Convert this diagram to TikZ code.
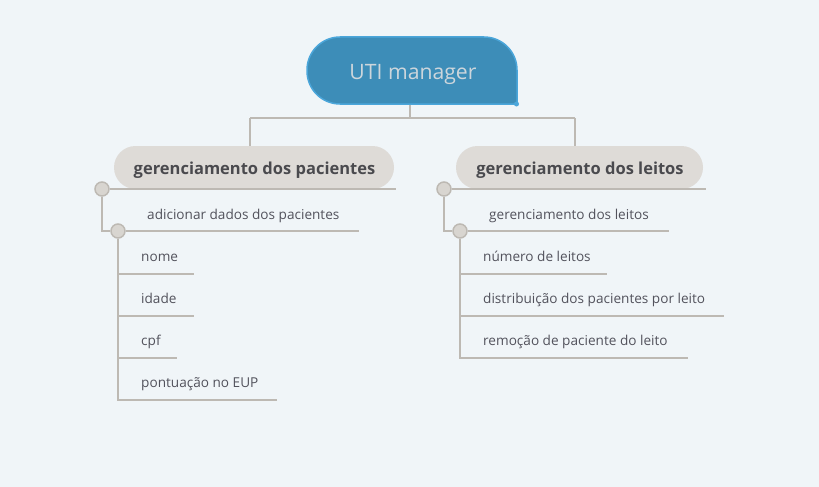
\documentclass[tikz,border=0pt]{standalone}
\usepackage{fontspec}
\setmainfont{Open Sans}
\begin{document}
\begin{tikzpicture}[x=1pt,y=-1pt,
  ln/.style={draw=lnc,line width=2pt},
  pill/.style={fill=pillc,draw=none,rounded corners=21.5pt,minimum height=43pt,inner sep=0pt},
  toptext/.style={anchor=base,inner sep=0pt,font=\fontsize{16.5}{19}\selectfont\bfseries,text=topc},
  dot/.style={circle,fill=dotc,draw=lnc,line width=1.5pt,minimum size=14pt,inner sep=0pt},
  leaf/.style={anchor=base west,inner sep=0pt,font=\fontsize{13.6}{16}\selectfont,text=leafc}]
\definecolor{bgc}{HTML}{F0F5F8}
\definecolor{lnc}{HTML}{BDB9B3}
\definecolor{pillc}{HTML}{DEDBD7}
\definecolor{dotc}{HTML}{D8D5D0}
\definecolor{topc}{HTML}{4A4A4E}
\definecolor{leafc}{HTML}{52525C}
\definecolor{rootc}{HTML}{3D8DB8}
\definecolor{rootb}{HTML}{4BA6DA}
\definecolor{roott}{HTML}{CDD6DC}
\useasboundingbox[fill=bgc] (0,0) rectangle (819,487);
% root
\draw[fill=rootc,draw=rootb,line width=1.5pt,rounded corners=33pt] (517,104) -- (307,104) -- (307,37) -- (517,37) [sharp corners] -- (517,104) -- cycle;
\fill[rootb] (516.5,104) circle (2.5pt);
\node[anchor=base,inner sep=0pt,font=\fontsize{21.2}{25}\selectfont,text=roott] (root) at (413,80) {UTI manager};
\coordinate (rootb) at (410,105);
\coordinate (bar) at (410,118);
% topics
\node[pill,minimum width=280pt] (t1) at (254,167.5) {};
\node[pill,minimum width=247pt] (t2) at (579.5,167.5) {};
\node[toptext] (t1t) at (254.5,174) {gerenciamento dos pacientes};
\node[toptext] (t2t) at (580,174) {gerenciamento dos leitos};
\draw[ln] (rootb) -- (bar) (250,118) -- (575,118);
\draw[ln] (250,118) -- (250,146) (575,118) -- (575,146);
% left branch
\coordinate (l1e) at (396,189);
\coordinate (l2e) at (359,231);
\node[dot] (d1) at (102,189) {};
\node[dot] (d2) at (118,231) {};
\draw[ln] (d1.east) -- (l1e);
\draw[ln] (d1.south) -- (102,231) -- (d2.west);
\draw[ln] (d2.east) -- (l2e);
\node[leaf] (a1) at (147,219) {adicionar dados dos pacientes};
\node[leaf] (n1) at (141,261) {nome};
\node[leaf] (n2) at (141,303) {idade};
\node[leaf] (n3) at (141,345) {cpf};
\node[leaf] (n4) at (141,387) {pontuação no EUP};
\draw[ln] (d2.south) -- (118,400) -- (277,400);
\draw[ln] (118,274) -- (194,274);
\draw[ln] (118,316) -- (194,316);
\draw[ln] (118,358) -- (177,358);
% right branch
\coordinate (r1e) at (706,189);
\coordinate (r2e) at (669,231);
\node[dot] (e1) at (444,189) {};
\node[dot] (e2) at (460,231) {};
\draw[ln] (e1.east) -- (r1e);
\draw[ln] (e1.south) -- (444,231) -- (e2.west);
\draw[ln] (e2.east) -- (r2e);
\node[leaf] (b1) at (489,219) {gerenciamento dos leitos};
\node[leaf] (m1) at (483,261) {número de leitos};
\node[leaf] (m2) at (483,303) {distribuição dos pacientes por leito};
\node[leaf] (m3) at (483,345) {remoção de paciente do leito};
\draw[ln] (e2.south) -- (460,358) -- (688,358);
\draw[ln] (460,274) -- (607,274);
\draw[ln] (460,316) -- (724,316);
\end{tikzpicture}
\end{document}
